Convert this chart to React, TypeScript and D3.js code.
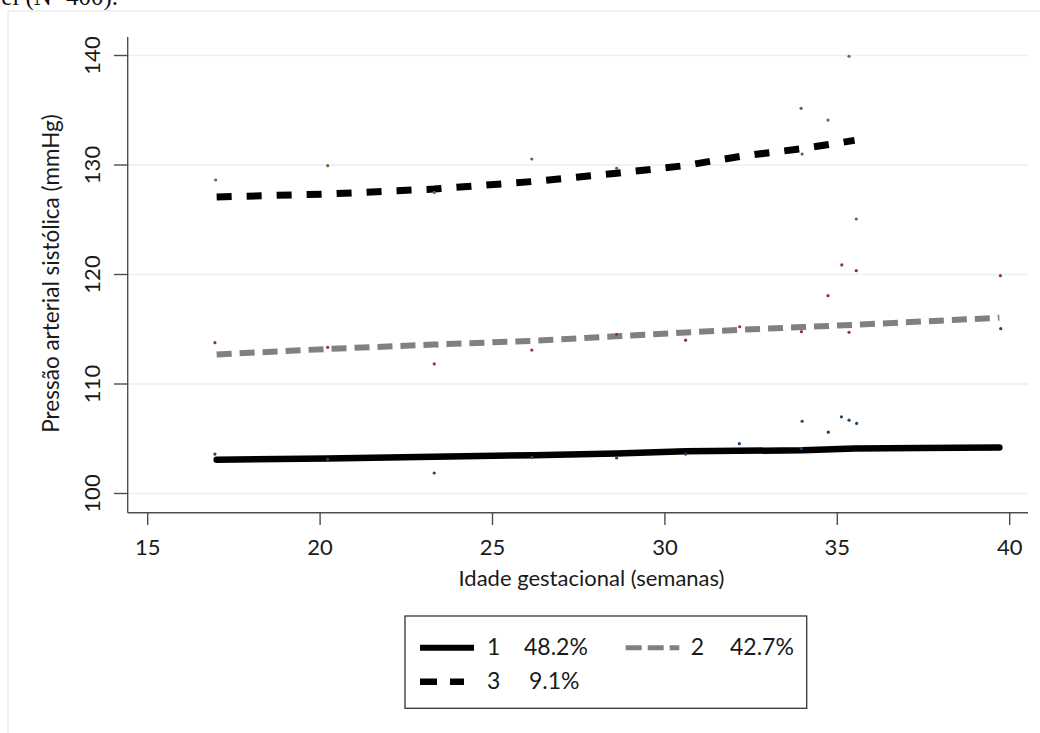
import React from "react";
import * as d3 from "d3";

// ---- data ----
const xTicks = [15, 20, 25, 30, 35, 40];
const yTicks = [100, 110, 120, 130, 140];

// fitted trajectories (gestational age, SBP)
const ages1 = [17, 20.2, 23.3, 26.2, 28.6, 30.6, 34.0, 35.5, 37.4, 39.7];
const fit1 = [103.08, 103.2, 103.35, 103.5, 103.65, 103.85, 103.95, 104.1, 104.15, 104.2];
const ages2 = [17, 20.2, 23.3, 26.2, 28.6, 30.6, 32.2, 34.0, 35.5, 39.7];
const fit2 = [112.7, 113.2, 113.6, 113.95, 114.35, 114.7, 114.95, 115.2, 115.4, 116.05];
const ages3 = [17, 20.2, 23.3, 26.2, 28.6, 30.6, 32.2, 34.0, 34.7, 35.5];
const fit3 = [127.08, 127.35, 127.8, 128.5, 129.25, 129.95, 130.8, 131.5, 131.85, 132.25];

// observed means (points)
const obsX1 = [16.95, 20.22, 23.31, 26.14, 28.6, 30.6, 32.16, 33.98, 33.96, 34.74, 35.12, 35.34, 35.56, 39.74];
const obsY1 = [103.6, 103.12, 101.87, 103.3, 103.24, 103.6, 104.55, 106.6, 104.1, 105.6, 107.0, 106.7, 106.4, 115.05];
const obsX2 = [16.95, 20.22, 23.31, 26.14, 28.6, 30.6, 32.17, 33.96, 34.73, 35.13, 35.34, 35.55, 39.73];
const obsY2 = [113.77, 113.35, 111.83, 113.1, 114.54, 114.0, 115.23, 114.78, 118.07, 120.87, 114.72, 120.35, 119.89];
const obsX3 = [16.97, 20.22, 23.31, 26.14, 28.6, 33.95, 33.98, 34.73, 35.34, 35.55];
const obsY3 = [128.63, 129.94, 127.5, 130.55, 129.7, 135.18, 131.0, 134.1, 139.93, 125.07];

const legendLabels = [
  { id: "1", pct: "48.2%" },
  { id: "2", pct: "42.7%" },
  { id: "3", pct: "9.1%" },
];

const FONT = "Lato, 'Open Sans', sans-serif";

export default function App() {
  const x = d3.scaleLinear().domain([15, 40]).range([147.7, 1009.7]);
  const y = d3.scaleLinear().domain([100, 140]).range([493.5, 55.5]);
  const plotLeft = 127.7;
  const plotRight = 1028;
  const axisY = 512.7;
  const axisTop = 37;

  const line = d3
    .line<[number, number]>()
    .x((d) => x(d[0]))
    .y((d) => y(d[1]));

  const zip = (a: number[], b: number[]) => a.map((v, i) => [v, b[i]] as [number, number]);

  const gridColor = "#e9f1f3";
  const axisColor = "#4d4d4d";
  const textColor = "#1a1a1a";

  const pts = [
    { xs: obsX1, ys: obsY1, c: "#1a476f" },
    { xs: obsX2, ys: obsY2, c: "#90353b" },
    { xs: obsX3, ys: obsY3, c: "#55752f" },
  ];

  return (
    <div style={{ position: "absolute", left: 0, top: 0 }}>
      <svg width={1040} height={733} style={{ display: "block", background: "#fff" }}>
        {/* caption fragment (cut off at the top, as in the reference) */}
        <text x={118} y={5} textAnchor="end" fontFamily="'Liberation Serif', serif" fontSize={25} fill="#111">
          el (N=400).
        </text>
        {/* outer frame */}
        <rect x={8} y={11} width={1100} height={800} fill="none" stroke="#e6eff2" strokeWidth={1.5} />

        {/* gridlines */}
        {yTicks.map((t) => (
          <line key={"g" + t} x1={plotLeft} x2={plotRight} y1={y(t)} y2={y(t)} stroke={gridColor} strokeWidth={1.6} />
        ))}

        {/* axes */}
        <line x1={plotLeft} x2={plotLeft} y1={axisTop} y2={axisY} stroke={axisColor} strokeWidth={1.4} />
        <line x1={plotLeft} x2={plotRight} y1={axisY} y2={axisY} stroke={axisColor} strokeWidth={1.4} />
        {yTicks.map((t) => (
          <g key={"yt" + t}>
            <line x1={114} x2={plotLeft} y1={y(t)} y2={y(t)} stroke={axisColor} strokeWidth={1.4} />
            <text
              transform={`translate(100,${y(t)}) rotate(-90)`}
              textAnchor="middle"
              fontFamily={FONT}
              fontSize={22}
              fill={textColor}
            >
              {t}
            </text>
          </g>
        ))}
        {xTicks.map((t) => (
          <g key={"xt" + t}>
            <line x1={x(t)} x2={x(t)} y1={axisY} y2={525} stroke={axisColor} strokeWidth={1.4} />
            <text x={x(t)} y={555} textAnchor="middle" fontFamily={FONT} fontSize={22} fill={textColor}>
              {t}
            </text>
          </g>
        ))}
        <text x={591.5} y={586} textAnchor="middle" fontFamily={FONT} fontSize={22} fill={textColor}>
          Idade gestacional (semanas)
        </text>
        <text
          transform={`translate(58.5,273.5) rotate(-90)`}
          textAnchor="middle"
          fontFamily={FONT}
          fontSize={22.5}
          fill={textColor}
        >
          Pressão arterial sistólica (mmHg)
        </text>

        {/* fitted lines */}
        <path d={line(zip(ages1, fit1)) || ""} fill="none" stroke="#000" strokeWidth={6.5} strokeLinecap="round" />
        <path d={line(zip(ages2, fit2)) || ""} fill="none" stroke="#808080" strokeWidth={6} strokeDasharray="15,8" />
        <path d={line(zip(ages3, fit3)) || ""} fill="none" stroke="#000" strokeWidth={7} strokeDasharray="15,15" />

        {/* observed points */}
        {pts.map((p, k) =>
          p.xs.map((v, i) => (
            <circle key={k + "-" + i} cx={x(v)} cy={y(p.ys[i])} r={1.6} fill={p.c} />
          ))
        )}

        {/* legend */}
        <rect x={405} y={616} width={401.7} height={92.3} fill="#fff" stroke="#333" strokeWidth={1.3} />
        <line x1={420} x2={474} y1={647.7} y2={647.7} stroke="#000" strokeWidth={6} />
        <text x={487} y={655} fontFamily={FONT} fontSize={23} fill={textColor}>{legendLabels[0].id}</text>
        <text x={524} y={655} fontFamily={FONT} fontSize={23} fill={textColor}>{legendLabels[0].pct}</text>
        <line x1={625.7} x2={679.3} y1={647.7} y2={647.7} stroke="#808080" strokeWidth={5} strokeDasharray="16,6" />
        <text x={690.7} y={655} fontFamily={FONT} fontSize={23} fill={textColor}>{legendLabels[1].id}</text>
        <text x={730} y={655} fontFamily={FONT} fontSize={23} fill={textColor}>{legendLabels[1].pct}</text>
        <line x1={420} x2={464} y1={681.7} y2={681.7} stroke="#000" strokeWidth={6.5} strokeDasharray="17,13" />
        <text x={487} y={689} fontFamily={FONT} fontSize={23} fill={textColor}>{legendLabels[2].id}</text>
        <text x={529} y={689} fontFamily={FONT} fontSize={23} fill={textColor}>{legendLabels[2].pct}</text>
      </svg>
    </div>
  );
}
